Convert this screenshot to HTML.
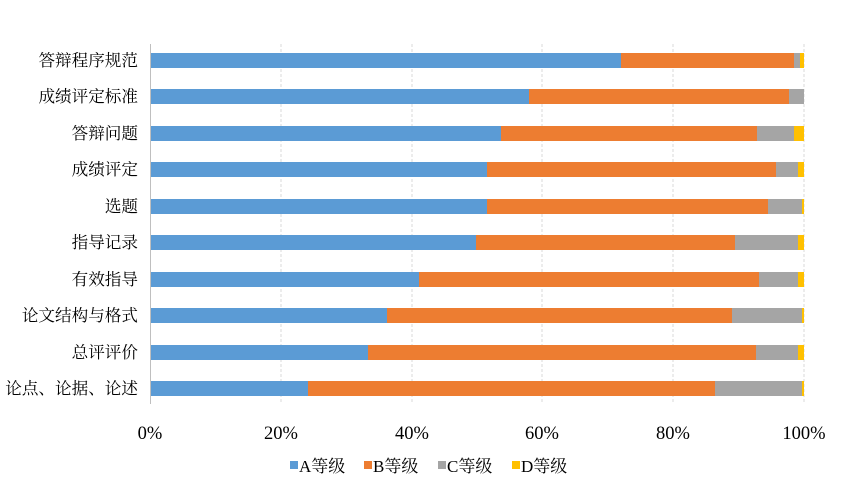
<!DOCTYPE html>
<html><head><meta charset="utf-8"><style>body{margin:0;background:#fff}</style></head><body>
<svg width="853" height="494" xmlns="http://www.w3.org/2000/svg" font-family="Liberation Serif, Noto Serif CJK SC, Noto Sans CJK SC, serif" font-size="15" fill="#000">
<g stroke="#d9d9d9" stroke-dasharray="3,2" stroke-width="1">
<line x1="281" y1="44" x2="281" y2="404"/><line x1="412" y1="44" x2="412" y2="404"/><line x1="542" y1="44" x2="542" y2="404"/><line x1="673" y1="44" x2="673" y2="404"/><line x1="804" y1="44" x2="804" y2="404"/>
</g>
<line x1="150.5" y1="44" x2="150.5" y2="404" stroke="#bfbfbf"/>
<g text-anchor="end" font-size="16.6">
<text x="138" y="66">答辩程序规范</text><text x="138" y="102">成绩评定标准</text><text x="138" y="139">答辩问题</text><text x="138" y="175">成绩评定</text><text x="138" y="212">选题</text><text x="138" y="248">指导记录</text><text x="138" y="285">有效指导</text><text x="138" y="321">论文结构与格式</text><text x="138" y="358">总评评价</text><text x="138" y="394">论点、论据、论述</text>
</g>
<g text-anchor="middle" font-size="18.5">
<text x="150" y="439">0%</text><text x="281" y="439">20%</text><text x="412" y="439">40%</text><text x="542" y="439">60%</text><text x="673" y="439">80%</text><text x="804" y="439">100%</text>
</g>
<g font-size="17">
<rect x="290" y="461" width="8" height="8" fill="#5b9bd5"/><text x="299" y="472">A等级</text>
<rect x="364" y="461" width="8" height="8" fill="#ed7d31"/><text x="373" y="472">B等级</text>
<rect x="438" y="461" width="8" height="8" fill="#a5a5a5"/><text x="447" y="472">C等级</text>
<rect x="512" y="461" width="8" height="8" fill="#ffc000"/><text x="521" y="472">D等级</text>
</g>
<g>
<rect x="151" y="53" width="470" height="15" fill="#5b9bd5"/><rect x="621" y="53" width="173" height="15" fill="#ed7d31"/><rect x="794" y="53" width="6" height="15" fill="#a5a5a5"/><rect x="800" y="53" width="4" height="15" fill="#ffc000"/>
<rect x="151" y="89" width="378" height="15" fill="#5b9bd5"/><rect x="529" y="89" width="260" height="15" fill="#ed7d31"/><rect x="789" y="89" width="15" height="15" fill="#a5a5a5"/>
<rect x="151" y="126" width="350" height="15" fill="#5b9bd5"/><rect x="501" y="126" width="256" height="15" fill="#ed7d31"/><rect x="757" y="126" width="37" height="15" fill="#a5a5a5"/><rect x="794" y="126" width="10" height="15" fill="#ffc000"/>
<rect x="151" y="162" width="336" height="15" fill="#5b9bd5"/><rect x="487" y="162" width="289" height="15" fill="#ed7d31"/><rect x="776" y="162" width="22" height="15" fill="#a5a5a5"/><rect x="798" y="162" width="6" height="15" fill="#ffc000"/>
<rect x="151" y="199" width="336" height="15" fill="#5b9bd5"/><rect x="487" y="199" width="281" height="15" fill="#ed7d31"/><rect x="768" y="199" width="34" height="15" fill="#a5a5a5"/><rect x="802" y="199" width="2" height="15" fill="#ffc000"/>
<rect x="151" y="235" width="325" height="15" fill="#5b9bd5"/><rect x="476" y="235" width="259" height="15" fill="#ed7d31"/><rect x="735" y="235" width="63" height="15" fill="#a5a5a5"/><rect x="798" y="235" width="6" height="15" fill="#ffc000"/>
<rect x="151" y="272" width="268" height="15" fill="#5b9bd5"/><rect x="419" y="272" width="340" height="15" fill="#ed7d31"/><rect x="759" y="272" width="39" height="15" fill="#a5a5a5"/><rect x="798" y="272" width="6" height="15" fill="#ffc000"/>
<rect x="151" y="308" width="236" height="15" fill="#5b9bd5"/><rect x="387" y="308" width="345" height="15" fill="#ed7d31"/><rect x="732" y="308" width="70" height="15" fill="#a5a5a5"/><rect x="802" y="308" width="2" height="15" fill="#ffc000"/>
<rect x="151" y="345" width="217" height="15" fill="#5b9bd5"/><rect x="368" y="345" width="388" height="15" fill="#ed7d31"/><rect x="756" y="345" width="42" height="15" fill="#a5a5a5"/><rect x="798" y="345" width="6" height="15" fill="#ffc000"/>
<rect x="151" y="381" width="157" height="15" fill="#5b9bd5"/><rect x="308" y="381" width="407" height="15" fill="#ed7d31"/><rect x="715" y="381" width="87" height="15" fill="#a5a5a5"/><rect x="802" y="381" width="2" height="15" fill="#ffc000"/>
</g>
</svg>
</body></html>
